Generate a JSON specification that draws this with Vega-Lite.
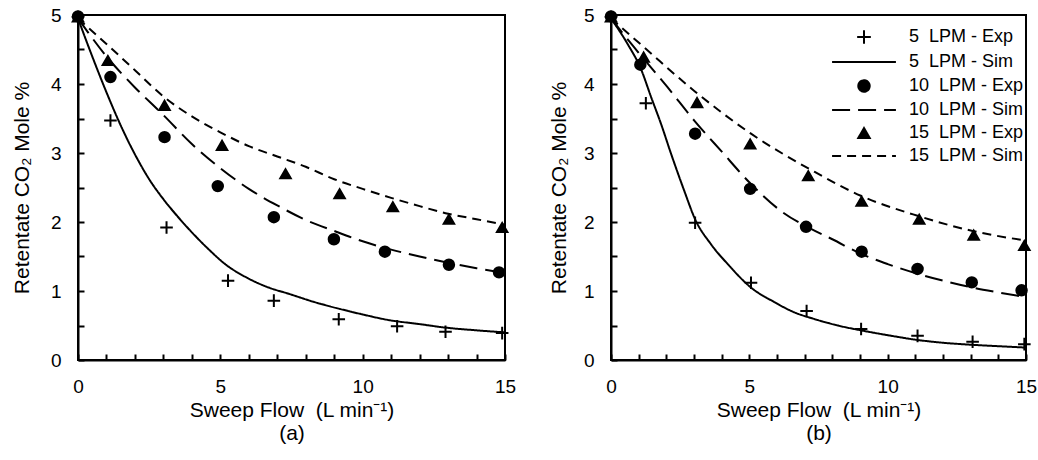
{
  "$schema": "https://vega.github.io/schema/vega-lite/v6.json",
  "background": "white",
  "padding": {"left": 10, "top": 5, "right": 0, "bottom": 5},
  "spacing": 30,
  "config": {
    "font": "Liberation Sans",
    "view": {"stroke": "black", "strokeWidth": 2},
    "axis": {
      "grid": false, "domainColor": "black", "domainWidth": 2,
      "tickColor": "black", "tickWidth": 2, "tickSize": -6, "tickCount": 100,
      "labelColor": "black", "labelFontSize": 19, "labelFont": "Liberation Sans",
      "titleFont": "Liberation Sans", "titleFontSize": 21, "titleFontWeight": "normal", "titleColor": "black",
      "labelFlush": false, "labelOverlap": false
    }
  },
  "resolve": {
    "scale": {"shape": "independent", "strokeDash": "independent"},
    "legend": {"shape": "independent", "strokeDash": "independent"}
  },
  "hconcat": [
    {
      "width": 427, "height": 345,
      "layer": [
        {
          "data": {"values": [
            {"x": 0, "y": 4.95, "series": "5\u00a0\u00a0LPM - Sim"}, {"x": 0.5, "y": 4.4, "series": "5\u00a0\u00a0LPM - Sim"}, {"x": 1, "y": 3.88, "series": "5\u00a0\u00a0LPM - Sim"}, {"x": 1.5, "y": 3.4, "series": "5\u00a0\u00a0LPM - Sim"}, {"x": 2, "y": 2.98, "series": "5\u00a0\u00a0LPM - Sim"}, {"x": 2.5, "y": 2.62, "series": "5\u00a0\u00a0LPM - Sim"}, {"x": 3, "y": 2.33, "series": "5\u00a0\u00a0LPM - Sim"}, {"x": 3.5, "y": 2.08, "series": "5\u00a0\u00a0LPM - Sim"}, {"x": 4, "y": 1.85, "series": "5\u00a0\u00a0LPM - Sim"}, {"x": 4.6, "y": 1.6, "series": "5\u00a0\u00a0LPM - Sim"}, {"x": 5.2, "y": 1.38, "series": "5\u00a0\u00a0LPM - Sim"}, {"x": 5.9, "y": 1.2, "series": "5\u00a0\u00a0LPM - Sim"}, {"x": 6.7, "y": 1.05, "series": "5\u00a0\u00a0LPM - Sim"}, {"x": 7.4, "y": 0.96, "series": "5\u00a0\u00a0LPM - Sim"}, {"x": 8.3, "y": 0.84, "series": "5\u00a0\u00a0LPM - Sim"}, {"x": 9.2, "y": 0.74, "series": "5\u00a0\u00a0LPM - Sim"}, {"x": 10, "y": 0.66, "series": "5\u00a0\u00a0LPM - Sim"}, {"x": 10.9, "y": 0.58, "series": "5\u00a0\u00a0LPM - Sim"}, {"x": 12, "y": 0.52, "series": "5\u00a0\u00a0LPM - Sim"}, {"x": 12.9, "y": 0.47, "series": "5\u00a0\u00a0LPM - Sim"}, {"x": 14, "y": 0.43, "series": "5\u00a0\u00a0LPM - Sim"}, {"x": 15, "y": 0.4, "series": "5\u00a0\u00a0LPM - Sim"},
            {"x": 0, "y": 4.95, "series": "10\u00a0\u00a0LPM - Sim"}, {"x": 1, "y": 4.4, "series": "10\u00a0\u00a0LPM - Sim"}, {"x": 2, "y": 3.95, "series": "10\u00a0\u00a0LPM - Sim"}, {"x": 3, "y": 3.55, "series": "10\u00a0\u00a0LPM - Sim"}, {"x": 4, "y": 3.13, "series": "10\u00a0\u00a0LPM - Sim"}, {"x": 5, "y": 2.78, "series": "10\u00a0\u00a0LPM - Sim"}, {"x": 6, "y": 2.48, "series": "10\u00a0\u00a0LPM - Sim"}, {"x": 7, "y": 2.24, "series": "10\u00a0\u00a0LPM - Sim"}, {"x": 8, "y": 2.03, "series": "10\u00a0\u00a0LPM - Sim"}, {"x": 9, "y": 1.87, "series": "10\u00a0\u00a0LPM - Sim"}, {"x": 10, "y": 1.72, "series": "10\u00a0\u00a0LPM - Sim"}, {"x": 11, "y": 1.6, "series": "10\u00a0\u00a0LPM - Sim"}, {"x": 12, "y": 1.5, "series": "10\u00a0\u00a0LPM - Sim"}, {"x": 13, "y": 1.41, "series": "10\u00a0\u00a0LPM - Sim"}, {"x": 14, "y": 1.33, "series": "10\u00a0\u00a0LPM - Sim"}, {"x": 15, "y": 1.26, "series": "10\u00a0\u00a0LPM - Sim"},
            {"x": 0, "y": 4.95, "series": "15\u00a0\u00a0LPM - Sim"}, {"x": 1, "y": 4.58, "series": "15\u00a0\u00a0LPM - Sim"}, {"x": 2, "y": 4.2, "series": "15\u00a0\u00a0LPM - Sim"}, {"x": 3, "y": 3.82, "series": "15\u00a0\u00a0LPM - Sim"}, {"x": 4, "y": 3.53, "series": "15\u00a0\u00a0LPM - Sim"}, {"x": 5, "y": 3.3, "series": "15\u00a0\u00a0LPM - Sim"}, {"x": 6, "y": 3.1, "series": "15\u00a0\u00a0LPM - Sim"}, {"x": 7, "y": 2.95, "series": "15\u00a0\u00a0LPM - Sim"}, {"x": 8, "y": 2.8, "series": "15\u00a0\u00a0LPM - Sim"}, {"x": 9, "y": 2.62, "series": "15\u00a0\u00a0LPM - Sim"}, {"x": 10, "y": 2.48, "series": "15\u00a0\u00a0LPM - Sim"}, {"x": 11, "y": 2.35, "series": "15\u00a0\u00a0LPM - Sim"}, {"x": 12, "y": 2.23, "series": "15\u00a0\u00a0LPM - Sim"}, {"x": 13, "y": 2.12, "series": "15\u00a0\u00a0LPM - Sim"}, {"x": 14, "y": 2.04, "series": "15\u00a0\u00a0LPM - Sim"}, {"x": 15, "y": 1.96, "series": "15\u00a0\u00a0LPM - Sim"}
          ]},
          "mark": {"type": "line", "interpolate": "monotone", "color": "black", "strokeWidth": 2},
          "encoding": {
            "x": {"field": "x", "type": "quantitative", "scale": {"domain": [0, 15], "nice": false},
              "axis": {"values": [0,1,2,3,4,5,6,7,8,9,10,11,12,13,14,15], "tickCount": 100, "labelExpr": "datum.value % 5 === 0 ? format(datum.value, 'd') : ''", "labelOverlap": false, "labelFlush": false, "labelPadding": 23, "titlePadding": 3, "titleLineHeight": 23, "title": ["Sweep Flow\u00a0\u00a0(L min⁻¹)", "(a)"]}},
            "y": {"field": "y", "type": "quantitative", "scale": {"domain": [0, 5], "nice": false},
              "axis": {"values": [0,0.5,1,1.5,2,2.5,3,3.5,4,4.5,5], "tickCount": 100, "labelExpr": "datum.value % 1 === 0 ? format(datum.value, 'd') : ''", "labelOverlap": false, "labelPadding": 23, "titlePadding": 18, "title": "Retentate CO₂ Mole %"}},
            "strokeDash": {"field": "series", "type": "nominal", "legend": null,
              "scale": {"domain": ["5\u00a0\u00a0LPM - Exp", "5\u00a0\u00a0LPM - Sim", "10\u00a0\u00a0LPM - Exp", "10\u00a0\u00a0LPM - Sim", "15\u00a0\u00a0LPM - Exp", "15\u00a0\u00a0LPM - Sim"],
                        "range": [[1, 0], [1, 0], [1, 0], [18, 8], [1, 0], [9, 6]]}}
          }
        },
        {
          "data": {"values": [
            {"x": 0, "y": 4.97, "series": "5\u00a0\u00a0LPM - Exp"}, {"x": 1.14, "y": 3.47, "series": "5\u00a0\u00a0LPM - Exp"}, {"x": 3.11, "y": 1.92, "series": "5\u00a0\u00a0LPM - Exp"}, {"x": 5.27, "y": 1.15, "series": "5\u00a0\u00a0LPM - Exp"}, {"x": 6.88, "y": 0.86, "series": "5\u00a0\u00a0LPM - Exp"}, {"x": 9.16, "y": 0.59, "series": "5\u00a0\u00a0LPM - Exp"}, {"x": 11.21, "y": 0.49, "series": "5\u00a0\u00a0LPM - Exp"}, {"x": 12.91, "y": 0.41, "series": "5\u00a0\u00a0LPM - Exp"}, {"x": 14.9, "y": 0.39, "series": "5\u00a0\u00a0LPM - Exp"},
            {"x": 0, "y": 4.97, "series": "15\u00a0\u00a0LPM - Exp"}, {"x": 1.05, "y": 4.34, "series": "15\u00a0\u00a0LPM - Exp"}, {"x": 3.04, "y": 3.69, "series": "15\u00a0\u00a0LPM - Exp"}, {"x": 5.06, "y": 3.11, "series": "15\u00a0\u00a0LPM - Exp"}, {"x": 7.29, "y": 2.7, "series": "15\u00a0\u00a0LPM - Exp"}, {"x": 9.19, "y": 2.41, "series": "15\u00a0\u00a0LPM - Exp"}, {"x": 11.06, "y": 2.22, "series": "15\u00a0\u00a0LPM - Exp"}, {"x": 13.03, "y": 2.04, "series": "15\u00a0\u00a0LPM - Exp"}, {"x": 14.9, "y": 1.92, "series": "15\u00a0\u00a0LPM - Exp"},
            {"x": 0, "y": 4.98, "series": "10\u00a0\u00a0LPM - Exp"}, {"x": 1.14, "y": 4.1, "series": "10\u00a0\u00a0LPM - Exp"}, {"x": 3.04, "y": 3.23, "series": "10\u00a0\u00a0LPM - Exp"}, {"x": 4.91, "y": 2.52, "series": "10\u00a0\u00a0LPM - Exp"}, {"x": 6.88, "y": 2.07, "series": "10\u00a0\u00a0LPM - Exp"}, {"x": 8.99, "y": 1.75, "series": "10\u00a0\u00a0LPM - Exp"}, {"x": 10.78, "y": 1.57, "series": "10\u00a0\u00a0LPM - Exp"}, {"x": 13.03, "y": 1.38, "series": "10\u00a0\u00a0LPM - Exp"}, {"x": 14.79, "y": 1.27, "series": "10\u00a0\u00a0LPM - Exp"}
          ]},
          "mark": {"type": "point", "filled": true, "fill": "black", "stroke": "black", "strokeWidth": 2, "size": 110, "opacity": 1},
          "encoding": {
            "x": {"field": "x", "type": "quantitative"},
            "y": {"field": "y", "type": "quantitative"},
            "shape": {"field": "series", "type": "nominal", "legend": null,
              "scale": {"domain": ["5\u00a0\u00a0LPM - Exp", "5\u00a0\u00a0LPM - Sim", "10\u00a0\u00a0LPM - Exp", "10\u00a0\u00a0LPM - Sim", "15\u00a0\u00a0LPM - Exp", "15\u00a0\u00a0LPM - Sim"],
                        "range": ["M-1.2,0H1.2M0,-1.2V1.2", "M-5.6,0H5.6", "circle", "M-5.6,0H5.6", "triangle-up", "M-5.6,0H5.6"]}}
          }
        }
      ]
    },
    {
      "width": 415, "height": 345,
      "layer": [
        {
          "data": {"values": [
            {"x": 0, "y": 4.95, "series": "5\u00a0\u00a0LPM - Sim"}, {"x": 0.6, "y": 4.58, "series": "5\u00a0\u00a0LPM - Sim"}, {"x": 1.08, "y": 4.22, "series": "5\u00a0\u00a0LPM - Sim"}, {"x": 1.45, "y": 3.81, "series": "5\u00a0\u00a0LPM - Sim"}, {"x": 1.81, "y": 3.42, "series": "5\u00a0\u00a0LPM - Sim"}, {"x": 2.17, "y": 2.99, "series": "5\u00a0\u00a0LPM - Sim"}, {"x": 2.65, "y": 2.45, "series": "5\u00a0\u00a0LPM - Sim"}, {"x": 3.04, "y": 2.04, "series": "5\u00a0\u00a0LPM - Sim"}, {"x": 3.61, "y": 1.68, "series": "5\u00a0\u00a0LPM - Sim"}, {"x": 4.22, "y": 1.39, "series": "5\u00a0\u00a0LPM - Sim"}, {"x": 5.06, "y": 1.05, "series": "5\u00a0\u00a0LPM - Sim"}, {"x": 5.9, "y": 0.84, "series": "5\u00a0\u00a0LPM - Sim"}, {"x": 6.63, "y": 0.69, "series": "5\u00a0\u00a0LPM - Sim"}, {"x": 7.3, "y": 0.6, "series": "5\u00a0\u00a0LPM - Sim"}, {"x": 8.2, "y": 0.5, "series": "5\u00a0\u00a0LPM - Sim"}, {"x": 9.03, "y": 0.43, "series": "5\u00a0\u00a0LPM - Sim"}, {"x": 10, "y": 0.36, "series": "5\u00a0\u00a0LPM - Sim"}, {"x": 11.08, "y": 0.29, "series": "5\u00a0\u00a0LPM - Sim"}, {"x": 12, "y": 0.25, "series": "5\u00a0\u00a0LPM - Sim"}, {"x": 13.07, "y": 0.22, "series": "5\u00a0\u00a0LPM - Sim"}, {"x": 14, "y": 0.2, "series": "5\u00a0\u00a0LPM - Sim"}, {"x": 15, "y": 0.18, "series": "5\u00a0\u00a0LPM - Sim"},
            {"x": 0, "y": 4.95, "series": "10\u00a0\u00a0LPM - Sim"}, {"x": 0.84, "y": 4.53, "series": "10\u00a0\u00a0LPM - Sim"}, {"x": 2.05, "y": 3.95, "series": "10\u00a0\u00a0LPM - Sim"}, {"x": 3.01, "y": 3.47, "series": "10\u00a0\u00a0LPM - Sim"}, {"x": 3.98, "y": 3.03, "series": "10\u00a0\u00a0LPM - Sim"}, {"x": 5.06, "y": 2.55, "series": "10\u00a0\u00a0LPM - Sim"}, {"x": 6.14, "y": 2.16, "series": "10\u00a0\u00a0LPM - Sim"}, {"x": 7.23, "y": 1.9, "series": "10\u00a0\u00a0LPM - Sim"}, {"x": 8, "y": 1.75, "series": "10\u00a0\u00a0LPM - Sim"}, {"x": 9.03, "y": 1.54, "series": "10\u00a0\u00a0LPM - Sim"}, {"x": 10, "y": 1.39, "series": "10\u00a0\u00a0LPM - Sim"}, {"x": 11.08, "y": 1.25, "series": "10\u00a0\u00a0LPM - Sim"}, {"x": 12, "y": 1.15, "series": "10\u00a0\u00a0LPM - Sim"}, {"x": 13.07, "y": 1.05, "series": "10\u00a0\u00a0LPM - Sim"}, {"x": 14, "y": 0.98, "series": "10\u00a0\u00a0LPM - Sim"}, {"x": 15, "y": 0.91, "series": "10\u00a0\u00a0LPM - Sim"},
            {"x": 0, "y": 4.95, "series": "15\u00a0\u00a0LPM - Sim"}, {"x": 1.2, "y": 4.53, "series": "15\u00a0\u00a0LPM - Sim"}, {"x": 3.01, "y": 3.9, "series": "15\u00a0\u00a0LPM - Sim"}, {"x": 5.06, "y": 3.28, "series": "15\u00a0\u00a0LPM - Sim"}, {"x": 7.3, "y": 2.74, "series": "15\u00a0\u00a0LPM - Sim"}, {"x": 9.03, "y": 2.38, "series": "15\u00a0\u00a0LPM - Sim"}, {"x": 11.08, "y": 2.09, "series": "15\u00a0\u00a0LPM - Sim"}, {"x": 13.07, "y": 1.87, "series": "15\u00a0\u00a0LPM - Sim"}, {"x": 15, "y": 1.73, "series": "15\u00a0\u00a0LPM - Sim"}
          ]},
          "mark": {"type": "line", "interpolate": "monotone", "color": "black", "strokeWidth": 2},
          "encoding": {
            "x": {"field": "x", "type": "quantitative", "scale": {"domain": [0, 15], "nice": false},
              "axis": {"values": [0,1,2,3,4,5,6,7,8,9,10,11,12,13,14,15], "tickCount": 100, "labelExpr": "datum.value % 5 === 0 ? format(datum.value, 'd') : ''", "labelOverlap": false, "labelFlush": false, "labelPadding": 23, "titlePadding": 3, "titleLineHeight": 23, "title": ["Sweep Flow\u00a0\u00a0(L min⁻¹)", "(b)"]}},
            "y": {"field": "y", "type": "quantitative", "scale": {"domain": [0, 5], "nice": false},
              "axis": {"values": [0,0.5,1,1.5,2,2.5,3,3.5,4,4.5,5], "tickCount": 100, "labelExpr": "datum.value % 1 === 0 ? format(datum.value, 'd') : ''", "labelOverlap": false, "labelPadding": 23, "titlePadding": 14, "title": "Retentate CO₂ Mole %"}},
            "strokeDash": {"field": "series", "type": "nominal",
              "scale": {"domain": ["5\u00a0\u00a0LPM - Exp", "5\u00a0\u00a0LPM - Sim", "10\u00a0\u00a0LPM - Exp", "10\u00a0\u00a0LPM - Sim", "15\u00a0\u00a0LPM - Exp", "15\u00a0\u00a0LPM - Sim"],
                        "range": [[1, 0], [1, 0], [1, 0], [18, 8], [1, 0], [9, 6]]},
              "legend": {"title": null, "orient": "none", "legendX": 244, "legendY": 13, "symbolSize": 130, "labelOffset": 36, "labelFontSize": 18, "labelFont": "Liberation Sans", "labelColor": "black", "rowPadding": 5, "padding": 0,
                "symbolFillColor": "black", "symbolStrokeColor": "black", "symbolStrokeWidth": 2,
                "encode": {"symbols": {"update": {"fill": {"value": "black"}, "stroke": {"value": "black"}, "strokeWidth": {"value": 2}}}}}}
          }
        },
        {
          "data": {"values": [
            {"x": 0, "y": 4.97, "series": "5\u00a0\u00a0LPM - Exp"}, {"x": 1.26, "y": 3.72, "series": "5\u00a0\u00a0LPM - Exp"}, {"x": 3.04, "y": 1.99, "series": "5\u00a0\u00a0LPM - Exp"}, {"x": 5.06, "y": 1.12, "series": "5\u00a0\u00a0LPM - Exp"}, {"x": 7.07, "y": 0.71, "series": "5\u00a0\u00a0LPM - Exp"}, {"x": 9.04, "y": 0.45, "series": "5\u00a0\u00a0LPM - Exp"}, {"x": 11.08, "y": 0.35, "series": "5\u00a0\u00a0LPM - Exp"}, {"x": 13.07, "y": 0.265, "series": "5\u00a0\u00a0LPM - Exp"}, {"x": 14.94, "y": 0.23, "series": "5\u00a0\u00a0LPM - Exp"},
            {"x": 0, "y": 4.97, "series": "15\u00a0\u00a0LPM - Exp"}, {"x": 1.18, "y": 4.39, "series": "15\u00a0\u00a0LPM - Exp"}, {"x": 3.11, "y": 3.73, "series": "15\u00a0\u00a0LPM - Exp"}, {"x": 5.03, "y": 3.13, "series": "15\u00a0\u00a0LPM - Exp"}, {"x": 7.13, "y": 2.67, "series": "15\u00a0\u00a0LPM - Exp"}, {"x": 9.06, "y": 2.3, "series": "15\u00a0\u00a0LPM - Exp"}, {"x": 11.14, "y": 2.04, "series": "15\u00a0\u00a0LPM - Exp"}, {"x": 13.11, "y": 1.81, "series": "15\u00a0\u00a0LPM - Exp"}, {"x": 14.94, "y": 1.66, "series": "15\u00a0\u00a0LPM - Exp"},
            {"x": 0, "y": 4.98, "series": "10\u00a0\u00a0LPM - Exp"}, {"x": 1.06, "y": 4.28, "series": "10\u00a0\u00a0LPM - Exp"}, {"x": 3.04, "y": 3.28, "series": "10\u00a0\u00a0LPM - Exp"}, {"x": 5.03, "y": 2.48, "series": "10\u00a0\u00a0LPM - Exp"}, {"x": 7.05, "y": 1.93, "series": "10\u00a0\u00a0LPM - Exp"}, {"x": 9.06, "y": 1.57, "series": "10\u00a0\u00a0LPM - Exp"}, {"x": 11.08, "y": 1.32, "series": "10\u00a0\u00a0LPM - Exp"}, {"x": 13.04, "y": 1.125, "series": "10\u00a0\u00a0LPM - Exp"}, {"x": 14.84, "y": 1.01, "series": "10\u00a0\u00a0LPM - Exp"}
          ]},
          "mark": {"type": "point", "filled": true, "fill": "black", "stroke": "black", "strokeWidth": 2, "size": 110, "opacity": 1},
          "encoding": {
            "x": {"field": "x", "type": "quantitative"},
            "y": {"field": "y", "type": "quantitative"},
            "shape": {"field": "series", "type": "nominal",
              "scale": {"domain": ["5\u00a0\u00a0LPM - Exp", "5\u00a0\u00a0LPM - Sim", "10\u00a0\u00a0LPM - Exp", "10\u00a0\u00a0LPM - Sim", "15\u00a0\u00a0LPM - Exp", "15\u00a0\u00a0LPM - Sim"],
                        "range": ["M-1.2,0H1.2M0,-1.2V1.2", "M-5.6,0H5.6", "circle", "M-5.6,0H5.6", "triangle-up", "M-5.6,0H5.6"]},
              "legend": {"title": null, "orient": "none", "legendX": 244, "legendY": 13, "symbolSize": 130, "labelOffset": 36, "labelFontSize": 18, "labelFont": "Liberation Sans", "labelColor": "black", "rowPadding": 5, "padding": 0,
                "symbolFillColor": "black", "symbolStrokeColor": "black", "symbolStrokeWidth": 2,
                "encode": {"symbols": {"update": {"fill": {"value": "black"}, "stroke": {"value": "black"}, "strokeWidth": {"value": 2}}}}}}
          }
        }
      ]
    }
  ]
}
